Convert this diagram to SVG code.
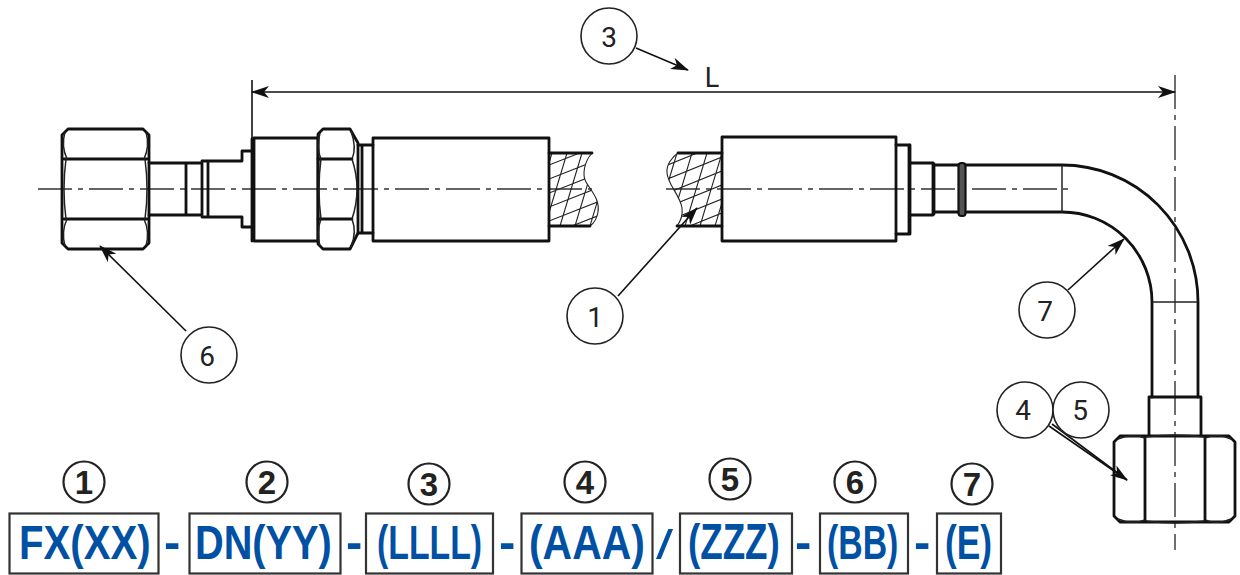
<svg xmlns="http://www.w3.org/2000/svg" width="1240" height="575" viewBox="0 0 1240 575">
<style>
.m{fill:none;stroke:#111;stroke-width:2.8;stroke-linejoin:round;stroke-linecap:round}
.t{fill:none;stroke:#222;stroke-width:1.5}
.h{fill:none;stroke:#222;stroke-width:1.1}
.c{fill:none;stroke:#333;stroke-width:1.4;stroke-dasharray:34 6 5 6}
.l{fill:none;stroke:#111;stroke-width:1.6}
.cc{fill:#fff;stroke:#222;stroke-width:1.6}
.n{font-family:"Roboto","Liberation Sans",sans-serif;font-size:28px;fill:#222;text-anchor:middle}
.bc{fill:none;stroke:#222;stroke-width:2.2}
.bn{font-family:"Liberation Sans",sans-serif;font-weight:700;font-size:33px;fill:#222;text-anchor:middle}
.b{fill:#fff;stroke:#333;stroke-width:2.2}
.x{font-family:"Liberation Sans",sans-serif;font-weight:700;font-size:49px;fill:#0050a4}
.s{font-family:"Liberation Sans",sans-serif;font-weight:400;font-size:41px;fill:#0050a4}
</style>
<defs>
<marker id="a" viewBox="0 0 18 12" refX="17" refY="6" markerWidth="18" markerHeight="12" markerUnits="userSpaceOnUse" orient="auto"><path d="M0 0L18 6L0 12L5 6Z" fill="#111"/></marker>
<marker id="as" viewBox="0 0 18 12" refX="1" refY="6" markerWidth="18" markerHeight="12" markerUnits="userSpaceOnUse" orient="auto"><path d="M18 0L0 6L18 12L13 6Z" fill="#111"/></marker>
<clipPath id="hl"><path d="M549 153H592C584 162 582 175 586 182C592 192 600 200 598 212C597 219 594 223 590 226H549Z"/></clipPath>
<clipPath id="hr"><path d="M678 153C672 157 666 165 667 173C668 185 680 195 682 208C683 216 680 222 677 226H721V153Z"/></clipPath>
</defs>

<g id="centre-lines">
<path class="c" d="M38 189H592"/>
<path class="c" d="M666 189H1070"/>
<path class="c" d="M1175 75V550"/>
</g>

<g id="hose-left-part">
<path class="h" clip-path="url(#hl)" d="M530 226L552 153M545 226L567 153M560 226L582 153M575 226L597 153M590 226L612 153M549 165L600 145M549 179L600 159M549 193L600 173M549 207L600 187M549 221L600 201M549 235L600 215"/>
<path class="h" d="M592 153C584 162 582 175 586 182C592 192 600 200 598 212C597 219 594 223 590 226"/>
<path class="m" d="M549 153H592M549 226H590"/>
<path class="m" d="M62 135L68 129H143L149 135V243L143 249H68L62 243Z"/>
<path class="m" d="M64 159H147M64 219H147"/>
<path class="t" d="M65 132Q61 146 67 159M146 132Q150 146 144 159M67 219Q61 232 65 246M144 219Q150 232 146 246"/>
<path class="t" d="M66 159Q62 189 66 219M145 159Q149 189 145 219"/>
<path class="m" d="M149 163H186V215H149M186 163H202M186 215H202M202 163V215"/>
<path class="m" d="M202 161H242V151H252M202 217H242V227H252M208 161V217"/>
<path class="m" d="M252 139V241"/>
<path class="m" stroke-width="3.200" d="M254 138H318V241H254Z"/>
<path class="m" d="M318 134L323 129H350L358 143V233L350 249H323L318 244Z"/>
<path class="m" d="M318 159H352M318 219H352"/>
<path class="t" d="M320 133Q316 148 321 159M351 131Q357 148 352 159M321 219Q316 232 320 246M352 219Q357 232 351 247"/>
<path class="t" d="M321 159Q317 189 321 219M352 159Q362 189 352 219"/>
<path class="m" d="M358 145H373M358 233H373M362 145V233"/>
<path class="m" d="M373 138H549V241H373Z"/>
</g>

<g id="hose-right-part">
<path class="h" clip-path="url(#hr)" d="M640 226L662 153M655 226L677 153M670 226L692 153M685 226L707 153M700 226L722 153M715 226L737 153M665 166L722 143M665 180L722 157M665 194L722 171M665 208L722 185M665 222L722 199M665 236L722 213M665 250L722 227"/>
<path class="h" d="M678 153C672 157 666 165 667 173C668 185 680 195 682 208C683 216 680 222 677 226"/>
<path class="m" d="M678 153H722M677 226H722"/>
<path class="m" d="M722 137H896V241H722Z"/>
<path class="m" d="M896 145H909V234H896"/>
<path class="m" stroke-width="3.600" d="M910 145V234"/>
<path class="m" d="M910 163H933V215H910"/>
<path class="m" stroke-width="3.600" d="M934 164V214"/>
<path class="m" d="M934 165H958M934 212H958"/>
<rect x="958.500" y="163" width="7" height="53" rx="3" fill="#555" stroke="#111" stroke-width="2.200"/>
<path class="m" d="M966 165H1062A136 137 0 0 1 1198 302V397M966 212H1062A90 90 0 0 1 1152 302V397"/>
<path class="t" d="M1062 165V212M1152 302H1198"/>
<path class="m" d="M1149 397H1201V435M1149 397V435"/>
<path class="m" d="M1120 436H1229L1235 442V516L1229 522H1120L1114 516V442Z"/>
<path class="m" d="M1145 437V521M1205 437V521"/>
<path class="t" d="M1118 439Q1132 433 1145 438M1205 438Q1218 433 1231 439M1118 519Q1132 525 1145 520M1205 520Q1218 525 1231 519"/>
<path class="t" d="M1146 437Q1175 433 1204 437M1146 521Q1175 525 1204 521"/>
</g>

<g id="connectors">
<path class="l" d="M252 80V138"/>
<path class="l" d="M252 92H1175" marker-start="url(#as)" marker-end="url(#a)"/>
<path class="l" d="M636 48L688 70" marker-end="url(#a)"/>
<path class="l" d="M186 331L100 246" marker-end="url(#a)"/>
<path class="l" d="M618 296L697 208" marker-end="url(#a)"/>
<path class="l" d="M1068 290L1124 239" marker-end="url(#a)"/>
<path class="l" d="M1049 426L1127 480" marker-end="url(#a)"/>
<path class="l" d="M1052 424L1127 480"/>
</g>

<g id="dim-L"><text x="712" y="87" font-family="Roboto,'Liberation Sans',sans-serif" font-size="27" fill="#222" text-anchor="middle">L</text></g>
<g id="callout-3"><circle class="cc" cx="609" cy="36" r="28"/><text class="n" x="609" y="47">3</text></g>
<g id="callout-6"><circle class="cc" cx="209" cy="355" r="28"/><text class="n" x="207" y="366">6</text></g>
<g id="callout-1"><circle class="cc" cx="595" cy="316" r="28"/><text class="n" x="595" y="327">1</text></g>
<g id="callout-7"><circle class="cc" cx="1047" cy="310" r="28"/><text class="n" x="1045" y="321">7</text></g>
<g id="callout-4"><circle class="cc" cx="1025" cy="410" r="28"/><text class="n" x="1023" y="420">4</text></g>
<g id="callout-5"><circle class="cc" cx="1081" cy="410" r="28"/><text class="n" x="1080" y="420">5</text></g>

<g id="code-1"><circle class="bc" cx="84" cy="482" r="20.500"/><text class="bn" x="84" y="494">1</text><rect class="b" x="9.500" y="513.500" width="149" height="60"/><text class="x" transform="translate(19 559) scale(.82 1)">FX(XX)</text></g>
<g id="code-2"><circle class="bc" cx="267" cy="482" r="20.500"/><text class="bn" x="267" y="494">2</text><rect class="b" x="189.500" y="513.500" width="151" height="60"/><text class="x" transform="translate(195 559) scale(.81 1)">DN(YY)</text></g>
<g id="code-3"><circle class="bc" cx="429" cy="484" r="20.500"/><text class="bn" x="429" y="496">3</text><rect class="b" x="366" y="513.500" width="127" height="60"/><text class="x" transform="translate(377 559) scale(.69 1)">(LLLL)</text></g>
<g id="code-4"><circle class="bc" cx="585" cy="482" r="20.500"/><text class="bn" x="585" y="494">4</text><rect class="b" x="521.500" y="513.500" width="131" height="60"/><text class="x" transform="translate(529 559) scale(.835 1)">(AAA)</text></g>
<g id="code-5"><circle class="bc" cx="730" cy="479" r="20.500"/><text class="bn" x="730" y="491">5</text><rect class="b" x="680" y="513.500" width="112" height="60"/><text class="x" transform="translate(688 559) scale(.75 1)">(ZZZ)</text></g>
<g id="code-6"><circle class="bc" cx="855" cy="482" r="20.500"/><text class="bn" x="855" y="494">6</text><rect class="b" x="820" y="513.500" width="88" height="60"/><text class="x" transform="translate(827 559) scale(.69 1)">(BB)</text></g>
<g id="code-7"><circle class="bc" cx="972" cy="484" r="20.500"/><text class="bn" x="972" y="496">7</text><rect class="b" x="937" y="513.500" width="64" height="60"/><text class="x" transform="translate(945 559) scale(.72 1)">(E)</text></g>

<g id="separators">
<text class="x" x="164" y="559">-</text>
<text class="x" x="346" y="559">-</text>
<text class="x" x="499" y="559">-</text>
<text class="s" transform="translate(656 559) scale(1.5 1)">/</text>
<text class="x" x="795" y="559">-</text>
<text class="x" x="914" y="559">-</text>
</g>
</svg>
